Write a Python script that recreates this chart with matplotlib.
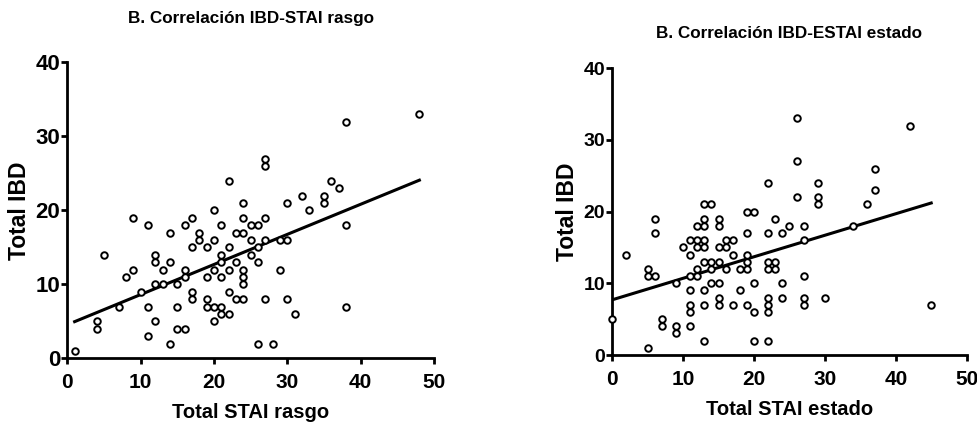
#!/usr/bin/env python3
"""Two scatter panels: IBD total vs STAI trait / state, with regression lines."""

import matplotlib

matplotlib.use("Agg")
import matplotlib.pyplot as plt  # noqa: E402
import numpy as np  # noqa: E402

NARROW = ["Liberation Sans Narrow", "Liberation Sans", "DejaVu Sans"]
WIDE = ["Liberation Sans", "DejaVu Sans"]

# panel A: STAI rasgo (trait)
rasgo_x = [1, 4, 4, 5, 7, 8, 9, 9, 10, 11, 11, 11, 12, 12, 12, 12, 13, 13, 14, 14, 14,
           15, 15, 15, 16, 16, 16, 16, 17, 17, 17, 17, 18, 18, 19, 19, 19, 19,
           20, 20, 20, 20, 20, 21, 21, 21, 21, 21, 21, 22, 22, 22, 22, 22,
           23, 23, 23, 24, 24, 24, 24, 24, 24, 24, 25, 25, 25, 26, 26, 26, 26,
           27, 27, 27, 27, 27, 28, 29, 29, 30, 30, 30, 31, 32, 33, 35, 35, 36, 37,
           38, 38, 38, 48]
rasgo_y = [1, 5, 4, 14, 7, 11, 12, 19, 9, 18, 7, 3, 14, 13, 10, 5, 12, 10, 17, 13, 2,
           10, 7, 4, 18, 12, 11, 4, 19, 15, 9, 8, 17, 16, 15, 11, 8, 7,
           20, 16, 12, 7, 5, 18, 14, 13, 11, 7, 6, 24, 15, 12, 9, 6,
           17, 13, 8, 21, 19, 17, 12, 11, 10, 8, 18, 16, 14, 18, 15, 13, 2,
           27, 26, 19, 16, 8, 2, 16, 12, 21, 16, 8, 6, 22, 20, 22, 21, 24, 23,
           32, 18, 7, 33]
rasgo_fit = (4.55, 0.407)  # intercept, slope

# panel B: STAI estado (state)
estado_x = [0, 2, 5, 5, 5, 6, 6, 6, 7, 7, 9, 9, 9, 10, 11, 11, 11, 11, 11, 11, 11,
            12, 12, 12, 12, 12, 13, 13, 13, 13, 13, 13, 13, 13, 13, 14, 14, 14, 14,
            15, 15, 15, 15, 15, 15, 15, 16, 16, 16, 17, 17, 17, 18, 18,
            19, 19, 19, 19, 19, 19, 20, 20, 20, 20, 22, 22, 22, 22, 22, 22, 22, 22,
            23, 23, 23, 24, 24, 24, 25, 26, 26, 26, 27, 27, 27, 27, 27,
            29, 29, 29, 30, 34, 36, 37, 37, 42, 45]
estado_y = [5, 14, 1, 12, 11, 11, 19, 17, 5, 4, 4, 3, 10, 15, 16, 14, 11, 9, 7, 6, 4,
            18, 16, 15, 12, 11, 21, 19, 18, 16, 15, 13, 9, 7, 2, 21, 13, 12, 10,
            19, 18, 15, 13, 10, 8, 7, 16, 15, 12, 16, 14, 7, 12, 9,
            20, 17, 14, 13, 12, 7, 20, 10, 6, 2, 24, 17, 13, 12, 8, 7, 6, 2,
            19, 13, 12, 17, 10, 8, 18, 33, 27, 22, 18, 16, 11, 8, 7,
            24, 22, 21, 8, 18, 21, 23, 26, 32, 7]
estado_fit = (7.7, 0.30)

x_ticks = [0, 10, 20, 30, 40, 50]
y_ticks = [0, 10, 20, 30, 40]


def panel(ax, xs, ys, fit, title, xlabel, title_y, ytick_size):
    xs = np.asarray(xs, dtype=float)
    ys = np.asarray(ys, dtype=float)
    ax.plot(xs, ys, "o", ms=4.7, mfc="white", mec="black", mew=1.4, clip_on=False, zorder=3)
    b0, b1 = fit
    lx = np.array([xs.min(), xs.max()])
    ax.plot(lx, b0 + b1 * lx, "-", color="black", lw=2.2, zorder=2)

    ax.set_xlim(0, 50); ax.set_ylim(0, 40)
    ax.set_xticks(x_ticks); ax.set_yticks(y_ticks)
    for s in ("top", "right"):
        ax.spines[s].set_visible(False)
    for s in ("left", "bottom"):
        ax.spines[s].set_linewidth(2)
    ax.tick_params(axis="x", direction="out", length=4.5, width=2, pad=6)
    ax.tick_params(axis="y", direction="out", length=4, width=2, pad=1)
    for lab in ax.get_xticklabels():
        lab.set_fontfamily(NARROW); lab.set_fontweight("bold"); lab.set_fontsize(15)
    for lab in ax.get_yticklabels():
        lab.set_fontfamily(WIDE); lab.set_fontweight("bold"); lab.set_fontsize(ytick_size)

    ax.set_xlabel(xlabel, family=NARROW, fontweight="bold", fontsize=14.5, labelpad=8)
    ax.set_ylabel("Total IBD", family=WIDE, fontweight="bold", fontsize=16.5, labelpad=3)
    bb = ax.get_position()
    ax.figure.text((bb.x0 + bb.x1) / 2, title_y, title, ha="center", va="center",
                   family=NARROW, fontweight="bold", fontsize=12.3)


fig = plt.figure(figsize=(9.78, 4.30), dpi=100)
ax1 = fig.add_axes([0.0688, 0.1667, 0.375, 0.688])
ax2 = fig.add_axes([0.626, 0.1744, 0.3624, 0.667])

panel(ax1, rasgo_x, rasgo_y, rasgo_fit, "B. Correlación IBD-STAI rasgo",
      "Total STAI rasgo", 0.958, 16)
panel(ax2, estado_x, estado_y, estado_fit, "B. Correlación IBD-ESTAI estado",
      "Total STAI estado", 0.922, 14)

fig.savefig("out.png", dpi=100)
plt.close(fig)
